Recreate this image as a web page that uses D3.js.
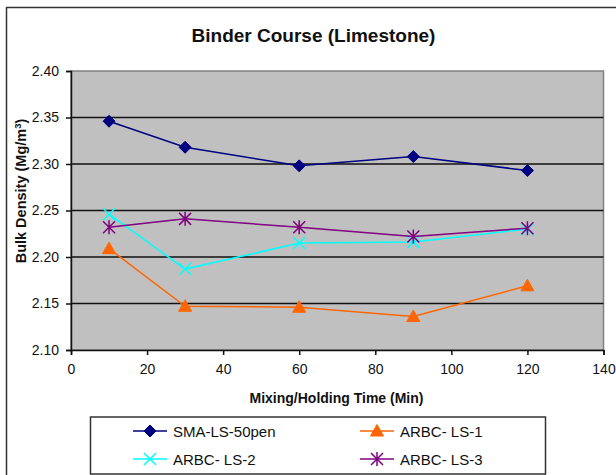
<!DOCTYPE html>
<html>
<head>
<meta charset="utf-8">
<script src="https://cdn.jsdelivr.net/npm/d3@7"></script>
<style>
  body { margin: 0; background: #fff; }
  svg { display: block; font-family: "Liberation Sans", Arial, sans-serif; }
</style>
</head>
<body>
<div id="vis"></div>
<script>
// data
var times = [10, 30, 60, 90, 120];
var seriesNames = ["SMA-LS-50pen", "ARBC- LS-1", "ARBC- LS-2", "ARBC- LS-3"];
var smaLs50 = [2.346, 2.318, 2.298, 2.308, 2.293];
var arbcLs1 = [2.209, 2.147, 2.146, 2.136, 2.169];
var arbcLs2 = [2.246, 2.187, 2.215, 2.216, 2.230];
var arbcLs3 = [2.232, 2.241, 2.232, 2.222, 2.231];
var xTicks = [0, 20, 40, 60, 80, 100, 120, 140];
var yTicks = [2.10, 2.15, 2.20, 2.25, 2.30, 2.35, 2.40];

var colors = ["#000080", "#ff6600", "#00ffff", "#800080"];
var shapes = ["diamond", "triangle", "x", "star"];
var allValues = [smaLs50, arbcLs1, arbcLs2, arbcLs3];

var width = 616, height = 475;
var plot = { left: 71, top: 71, right: 603.5, bottom: 350 };

var svg = d3.select('#vis').append('svg')
  .attr('width', width)
  .attr('height', height);

// outer chart border (right and bottom are cut off in the picture)
svg.append('path')
  .attr('d', 'M6.5,' + height + 'V7.5H' + width)
  .attr('fill', 'none')
  .attr('stroke', '#333')
  .attr('stroke-width', 1.5);

var x = d3.scaleLinear().domain([0, 140]).range([plot.left, plot.right]);
var y = d3.scaleLinear().domain([2.10, 2.40]).range([plot.bottom, plot.top]);

// plot area
svg.append('rect')
  .attr('x', plot.left)
  .attr('y', plot.top)
  .attr('width', plot.right - plot.left)
  .attr('height', plot.bottom - plot.top)
  .attr('fill', '#c0c0c0')
  .attr('stroke', '#808080')
  .attr('stroke-width', 1.5);

// gridlines
svg.append('g')
  .selectAll('line')
  .data(yTicks.slice(1, -1))
  .enter().append('line')
  .attr('x1', plot.left)
  .attr('x2', plot.right)
  .attr('y1', function (d) { return y(d); })
  .attr('y2', function (d) { return y(d); })
  .attr('stroke', '#111')
  .attr('stroke-width', 1.5);

// axes
var yAxis = svg.append('g')
  .attr('transform', 'translate(' + plot.left + ',0)')
  .call(d3.axisLeft(y).tickValues(yTicks).tickFormat(d3.format('.2f')).tickSizeOuter(0).tickSize(5).tickPadding(7));
var xAxis = svg.append('g')
  .attr('transform', 'translate(0,' + plot.bottom + ')')
  .call(d3.axisBottom(x).tickValues(xTicks).tickSizeOuter(0).tickSize(5).tickPadding(9));

[yAxis, xAxis].forEach(function (ax) {
  ax.select('.domain').attr('stroke', '#111').attr('stroke-width', 1.5);
  ax.selectAll('.tick line').attr('stroke', '#111').attr('stroke-width', 1.5);
  ax.selectAll('.tick text')
    .attr('fill', '#111')
    .style('font-size', '14px')
    .style('font-family', '"Liberation Sans", Arial, sans-serif');
});

// titles
svg.append('text')
  .attr('x', 313.5)
  .attr('y', 42)
  .attr('text-anchor', 'middle')
  .style('font-size', '19px')
  .style('font-weight', 'bold')
  .attr('fill', '#111')
  .text('Binder Course (Limestone)');

svg.append('text')
  .attr('x', 336.5)
  .attr('y', 403)
  .attr('text-anchor', 'middle')
  .style('font-size', '14px')
  .style('font-weight', 'bold')
  .attr('fill', '#111')
  .text('Mixing/Holding Time (Min)');

var yLabel = svg.append('text')
  .attr('transform', 'translate(26,191) rotate(-90)')
  .attr('text-anchor', 'middle')
  .style('font-size', '14.5px')
  .style('font-weight', 'bold')
  .attr('fill', '#111');
yLabel.append('tspan').text('Bulk Density (Mg/m');
yLabel.append('tspan').attr('dy', -5).style('font-size', '9.5px').text('3');
yLabel.append('tspan').attr('dy', 5).text(')');

// marker shapes
function markerPath(shape) {
  if (shape === 'diamond') return 'M0,-6L6,0L0,6L-6,0Z';
  if (shape === 'triangle') return 'M0,-6.5L6.5,5L-6.5,5Z';
  if (shape === 'x') return 'M-6,-6L6,6M-6,6L6,-6';
  return 'M-6,-6L6,6M-6,6L6,-6M0,-7V7';
}

function drawMarker(sel, i) {
  var filled = shapes[i] === 'diamond' || shapes[i] === 'triangle';
  sel.append('path')
    .attr('d', markerPath(shapes[i]))
    .attr('fill', filled ? colors[i] : 'none')
    .attr('stroke', colors[i])
    .attr('stroke-width', filled ? 1 : 1.5);
}

var line = d3.line()
  .x(function (d) { return x(d[0]); })
  .y(function (d) { return y(d[1]); });

allValues.forEach(function (vals, i) {
  var pts = times.map(function (t, j) { return [t, vals[j]]; });
  var g = svg.append('g');
  g.append('path')
    .attr('d', line(pts))
    .attr('fill', 'none')
    .attr('stroke', colors[i])
    .attr('stroke-width', 1.5);
  g.selectAll('g.pt')
    .data(pts)
    .enter().append('g')
    .attr('class', 'pt')
    .attr('transform', function (d) { return 'translate(' + x(d[0]) + ',' + y(d[1]) + ')'; })
    .each(function () { drawMarker(d3.select(this), i); });
});

// legend
svg.append('rect')
  .attr('x', 90.5)
  .attr('y', 417)
  .attr('width', 455)
  .attr('height', 57)
  .attr('fill', '#fff')
  .attr('stroke', '#333')
  .attr('stroke-width', 1.5);

var legendPos = [[150, 431], [377, 431], [150, 459], [377, 459]];
seriesNames.forEach(function (name, i) {
  var p = legendPos[i];
  var lg = svg.append('g').attr('transform', 'translate(' + p[0] + ',' + p[1] + ')');
  lg.append('line')
    .attr('x1', -17).attr('x2', 17)
    .attr('stroke', colors[i])
    .attr('stroke-width', 1.5);
  drawMarker(lg, i);
  lg.append('text')
    .attr('x', 23)
    .attr('y', 5.5)
    .style('font-size', '15px')
    .attr('fill', '#111')
    .text(name);
});
</script>
</body>
</html>
